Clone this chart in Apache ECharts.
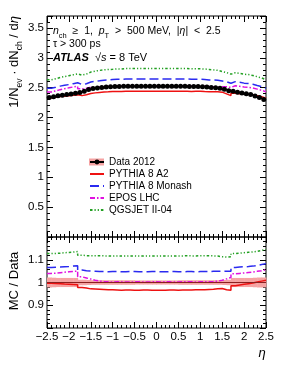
<!DOCTYPE html>
<html><head><meta charset="utf-8">
<script src="https://cdn.jsdelivr.net/npm/echarts@6/dist/echarts.min.js"></script>
<style>html,body{margin:0;padding:0;background:#fff}#c{width:283px;height:366px}</style>
</head><body><div id="c"></div>
<script>
// ---- data ----
const etaCenters = [-2.45,-2.35,-2.25,-2.15,-2.05,-1.95,-1.85,-1.75,-1.65,-1.55,-1.45,-1.35,-1.25,-1.15,-1.05,-0.95,-0.85,-0.75,-0.65,-0.55,-0.45,-0.35,-0.25,-0.15,-0.05,0.05,0.15,0.25,0.35,0.45,0.55,0.65,0.75,0.85,0.95,1.05,1.15,1.25,1.35,1.45,1.55,1.65,1.75,1.85,1.95,2.05,2.15,2.25,2.35,2.45];
const binHalfWidth = 0.05;

const dataVals = [2.335,2.35,2.365,2.375,2.385,2.395,2.405,2.42,2.44,2.47,2.485,2.495,2.505,2.51,2.515,2.52,2.52,
  2.525,2.525,2.525,2.525,2.525,2.525,2.525,2.525,2.525,2.525,2.525,2.525,2.525,2.525,2.525,
  2.52,2.52,2.52,2.515,2.51,2.505,2.5,2.49,2.475,2.45,2.44,2.425,2.41,2.40,2.385,2.36,2.335,2.30];
const dataRelErr = [0.022,0.021,0.02,0.02,0.02,0.02,0.02,0.012,0.012,0.011,0.01,0.01,0.01,0.01,0.01,0.01,0.01,0.01,0.01,0.01,0.009,0.009,0.009,0.009,0.009,
  0.009,0.009,0.009,0.009,0.009,0.01,0.01,0.01,0.01,0.01,0.01,0.01,0.01,0.01,0.01,0.011,0.012,0.02,0.02,0.02,0.02,0.02,0.021,0.022,0.022];

const topA2 = [2.328,2.341,2.353,2.358,2.366,2.373,2.381,2.367,2.381,2.401,2.413,2.420,2.427,2.430,2.435,2.437,2.434,
  2.442,2.442,2.439,2.439,2.442,2.442,2.439,2.439,2.439,2.439,2.442,2.442,2.439,2.442,2.442,
  2.437,2.439,2.439,2.435,2.432,2.430,2.430,2.425,2.396,2.367,2.406,2.398,2.391,2.388,2.380,2.365,2.349,2.323];
const topMonash = [2.489,2.507,2.526,2.539,2.552,2.567,2.583,2.553,2.567,2.594,2.607,2.615,2.625,2.628,2.636,2.641,2.638,
  2.644,2.646,2.644,2.646,2.646,2.644,2.644,2.646,2.645,2.644,2.646,2.646,2.644,2.644,2.646,
  2.641,2.640,2.641,2.636,2.630,2.628,2.623,2.612,2.599,2.573,2.601,2.590,2.576,2.568,2.557,2.537,2.519,2.491];
const topEPOS = [2.428,2.446,2.467,2.482,2.497,2.512,2.525,2.481,2.489,2.507,2.510,2.510,2.515,2.518,2.520,2.528,2.528,
  2.532,2.530,2.532,2.532,2.530,2.530,2.532,2.532,2.530,2.530,2.532,2.532,2.530,2.532,2.532,
  2.527,2.527,2.527,2.523,2.518,2.515,2.515,2.515,2.515,2.504,2.533,2.522,2.511,2.506,2.495,2.476,2.456,2.429];
const topQGS = [2.632,2.651,2.670,2.686,2.700,2.716,2.732,2.710,2.728,2.761,2.778,2.789,2.798,2.804,2.807,2.815,2.812,
  2.820,2.819,2.819,2.821,2.819,2.819,2.820,2.820,2.819,2.819,2.821,2.821,2.822,2.821,2.821,
  2.815,2.815,2.816,2.812,2.806,2.798,2.790,2.771,2.752,2.727,2.750,2.738,2.726,2.719,2.705,2.683,2.664,2.634];

const ratioA2 = [0.997,0.996,0.995,0.993,0.992,0.991,0.990,0.978,0.976,0.972,0.971,0.970,0.969,0.968,0.968,
  0.967,0.966,0.967,0.967,0.966,0.966,0.967,0.967,0.966,0.966,0.966,0.966,0.967,0.967,0.966,0.967,0.967,0.967,0.968,0.968,
  0.968,0.969,0.970,0.972,0.974,0.968,0.966,0.986,0.989,0.992,0.995,0.998,1.002,1.006,1.010];
const ratioMonash = [1.066,1.067,1.068,1.069,1.070,1.072,1.074,1.055,1.052,1.050,1.049,
  1.048,1.048,1.047,1.048,1.048,1.047,1.047,1.048,1.048,1.047,1.047,1.047,1.048,1.048,1.047,1.047,1.048,1.048,1.047,1.047,1.048,1.048,1.047,1.048,1.048,1.048,1.049,1.049,
  1.049,1.050,1.050,1.066,1.068,1.069,1.070,1.072,1.075,1.079,1.083];
const ratioEPOS = [1.040,1.041,1.043,1.045,1.047,1.049,1.050,1.025,1.020,1.015,1.010,1.006,1.004,
  1.003,1.002,1.003,1.003,1.002,1.002,1.003,1.003,1.002,1.002,1.003,1.003,1.002,1.003,1.003,1.002,1.002,1.003,1.003,1.003,1.002,1.003,1.003,1.003,
  1.004,1.006,1.010,1.016,1.022,1.038,1.040,1.042,1.044,1.046,1.049,1.052,1.056];
const ratioQGS = [1.127,1.128,1.129,1.131,1.132,1.134,1.136,1.120,1.118,1.118,1.118,
  1.118,1.117,1.117,1.116,1.117,1.116,1.116,1.117,1.117,1.116,1.116,1.117,1.116,1.116,1.117,1.117,1.116,1.116,1.117,1.117,1.118,1.117,1.117,1.118,1.118,1.118,1.117,1.116,
  1.113,1.112,1.113,1.127,1.129,1.131,1.133,1.134,1.137,1.141,1.145];

const xTickValues = [-2.5,-2,-1.5,-1,-0.5,0,0.5,1,1.5,2,2.5];
const xTickLabels = ['\u22122.5','\u22122','\u22121.5','\u22121','\u22120.5','0','0.5','1','1.5','2','2.5'];
const yTopTickValues = [0.5,1,1.5,2,2.5,3,3.5];
const yTopTickLabels = ['0.5','1','1.5','2','2.5','3','3.5'];
const yBotTickValues = [0.9,1,1.1];
const yBotTickLabels = ['0.9','1','1.1'];

const seriesNames = ['Data 2012','PYTHIA 8 A2','PYTHIA 8 Monash','EPOS LHC','QGSJET II-04'];
const colors = {a2:'#ee1111', monash:'#2a2af0', epos:'#e010e0', qgs:'#22a022'};

// ---- chart ----
const FONT = 'Liberation Sans';
const chart = echarts.init(document.getElementById('c'), null, {renderer:'canvas'});

function labelFrom(vals, labs){ return function(v){ for(let i=0;i<vals.length;i++){ if(Math.abs(vals[i]-v)<1e-6) return labs[i]; } return ''; }; }

function xAx(grid, pos, showLabel){
  return {type:'value', gridIndex:grid, position:pos, min:-2.5, max:2.5, interval:0.5,
    axisLine:{show:false,onZero:false},
    axisTick:{show:true,inside:true,length:6,lineStyle:{color:'#000',width:1}},
    minorTick:{show:true,splitNumber:5,length:3,lineStyle:{color:'#000',width:1}},
    splitLine:{show:false},
    axisLabel:{show:showLabel,margin:3,color:'#000',fontSize:11.5,fontFamily:FONT,formatter:labelFrom(xTickValues,xTickLabels)}};
}
function yAx(grid, pos, min, max, interval, showLabel, vals, labs){
  return {type:'value', gridIndex:grid, position:pos, min:min, max:max, interval:interval,
    axisLine:{show:false,onZero:false},
    axisTick:{show:true,inside:true,length:6,lineStyle:{color:'#000',width:1}},
    minorTick:{show:true,splitNumber:5,length:3,lineStyle:{color:'#000',width:1}},
    splitLine:{show:false},
    axisLabel:{show:showLabel,margin:3,color:'#000',fontSize:11.5,fontFamily:FONT,formatter:labelFrom(vals,labs)}};
}

function stepPts(vals){
  const pts = vals.map((v,i)=>[etaCenters[i]-binHalfWidth, v]);
  pts.push([etaCenters[vals.length-1]+binHalfWidth, vals[vals.length-1]]);
  return pts;
}
function modelLine(name, vals, color, dash, xi, yi, extra){
  return Object.assign({name:name, type:'line', xAxisIndex:xi, yAxisIndex:yi, step:'end', symbol:'none', showSymbol:false,
    data:stepPts(vals), lineStyle:{color:color,width:1.5,type:dash}, itemStyle:{color:color}, z:3, animation:false}, extra||{});
}

const dashMonash = [9,4];
const dashEPOS = [5,2,1.5,2];
const dashQGS = [2.5,2,1.2,2,1.2,2];

const legendData = seriesNames.map((n,i)=> i===0 ? {name:n} : {name:n, itemStyle:{opacity:0}});

const option = {
  animation:false,
  backgroundColor:'#fff',
  grid:[
    {left:47, right:17, top:16, height:221, show:true, borderColor:'#000', borderWidth:1, backgroundColor:'transparent'},
    {left:47, right:17, top:237, height:91, show:true, borderColor:'#000', borderWidth:1, backgroundColor:'transparent'}
  ],
  xAxis:[ xAx(0,'bottom',false), xAx(0,'top',false), xAx(1,'bottom',true), xAx(1,'top',false) ],
  yAxis:[
    yAx(0,'left',0,3.7,0.5,true,yTopTickValues,yTopTickLabels),
    yAx(0,'right',0,3.7,0.5,false,yTopTickValues,yTopTickLabels),
    yAx(1,'left',0.8,1.2,0.1,true,yBotTickValues,yBotTickLabels),
    yAx(1,'right',0.8,1.2,0.1,false,yBotTickValues,yBotTickLabels)
  ],
  legend:{
    data:legendData, orient:'vertical', left:89, top:156, itemWidth:14, itemHeight:6, itemGap:0,
    textStyle:{fontSize:10, fontFamily:FONT, color:'#000', lineHeight:12}, padding:0, selectedMode:false
  },
  graphic:[
    {type:'rect', z:-1, shape:{x:89, y:158.5, width:15, height:7}, style:{fill:'#f5a3a3'}},
    {type:'text', x:14, y:16, rotation:Math.PI/2, style:{
      text:'1/N{s|ev} \u00b7 dN{s|ch} / d{i|\u03b7}', align:'right', verticalAlign:'middle',
      fontSize:13, fontFamily:FONT, fill:'#000', lineHeight:15,
      rich:{s:{fontSize:8.5,fontFamily:FONT,lineHeight:9,verticalAlign:'bottom',padding:[0,0,-3,0]}, i:{fontSize:13,fontFamily:FONT,fontStyle:'italic'}}}},
    {type:'text', x:14, y:281, rotation:Math.PI/2, style:{
      text:'MC / Data', align:'center', verticalAlign:'middle', fontSize:13, fontFamily:FONT, fill:'#000'}},
    {type:'text', x:262, y:353, style:{text:'\u03b7', align:'center', verticalAlign:'middle', fontSize:13, fontFamily:FONT, fontStyle:'italic', fill:'#000'}},
    {type:'text', x:53, y:31, style:{
      text:'{i|n}{s|ch}  \u2265  1,  {i|p}{s|T}  >  500 MeV,  |{i|\u03b7}|  <  2.5', align:'left', verticalAlign:'middle',
      fontSize:10.5, fontFamily:FONT, fill:'#000', lineHeight:12,
      rich:{i:{fontSize:10.5,fontFamily:FONT,fontStyle:'italic'}, s:{fontSize:7.5,fontFamily:FONT,lineHeight:7,verticalAlign:'bottom',padding:[0,0,-3,0]}}}},
    {type:'text', x:53, y:44, style:{text:'\u03c4 > 300 ps', align:'left', verticalAlign:'middle', fontSize:10.5, fontFamily:FONT, fill:'#000'}},
    {type:'text', x:53, y:58, style:{
      text:'{b|ATLAS}  \u221a{i|s} = 8 TeV', align:'left', verticalAlign:'middle', fontSize:11, fontFamily:FONT, fill:'#000',
      rich:{b:{fontSize:11,fontFamily:FONT,fontWeight:'bold',fontStyle:'italic'}, i:{fontSize:11,fontFamily:FONT,fontStyle:'italic'}}}}
  ],
  series:[
    modelLine('PYTHIA 8 A2', topA2, colors.a2, 'solid', 0, 0),
    modelLine('PYTHIA 8 Monash', topMonash, colors.monash, dashMonash, 0, 0),
    modelLine('EPOS LHC', topEPOS, colors.epos, dashEPOS, 0, 0),
    modelLine('QGSJET II-04', topQGS, colors.qgs, dashQGS, 0, 0),
    {name:'Data 2012', type:'line', xAxisIndex:0, yAxisIndex:0, data:etaCenters.map((x,i)=>[x,dataVals[i]]),
      symbol:'circle', symbolSize:5, showSymbol:true, itemStyle:{color:'#000'}, lineStyle:{color:'#000',width:1}, z:5, animation:false},
    {name:'band', type:'custom', xAxisIndex:2, yAxisIndex:2, data:etaCenters.map((x,i)=>[x,dataRelErr[i]]), z:1,
      renderItem:function(params, api){
        const x = api.value(0), e = api.value(1);
        const p1 = api.coord([x-binHalfWidth, 1+e]);
        const p2 = api.coord([x+binHalfWidth, 1-e]);
        return {type:'rect', shape:{x:p1[0], y:p1[1], width:p2[0]-p1[0]+0.5, height:p2[1]-p1[1]}, style:{fill:'#f5a3a3'}};
      }, animation:false},
    modelLine('PYTHIA 8 A2', ratioA2, colors.a2, 'solid', 2, 2, {markLine:{silent:true, symbol:'none', label:{show:false}, lineStyle:{color:'#8b2020',width:1,type:'solid'}, data:[{yAxis:1}]}}),
    modelLine('PYTHIA 8 Monash', ratioMonash, colors.monash, dashMonash, 2, 2),
    modelLine('EPOS LHC', ratioEPOS, colors.epos, dashEPOS, 2, 2),
    modelLine('QGSJET II-04', ratioQGS, colors.qgs, dashQGS, 2, 2)
  ]
};
chart.setOption(option);
</script></body></html>
